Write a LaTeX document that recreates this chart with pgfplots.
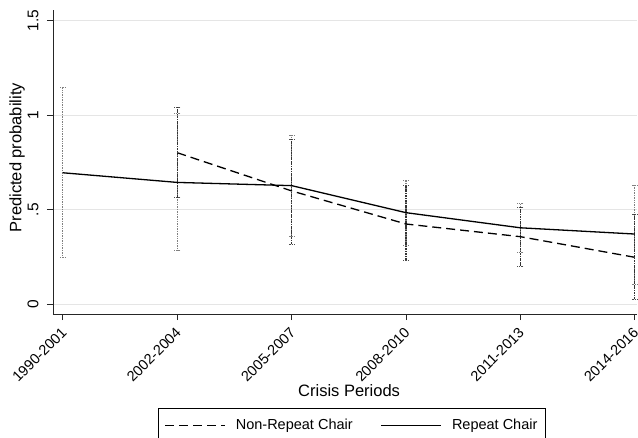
\documentclass[border=0pt]{standalone}
\usepackage{pgfplots}
\pgfplotsset{compat=1.18}
\usepackage{pgfplotstable}
\usepackage{fontspec}
\setmainfont{Liberation Sans}

\pgfplotstableread{
x y
0 0.696
1 0.645
2 0.628
3 0.485
4 0.405
5 0.372
}\repeatdata

\pgfplotstableread{
x y
1 0.802
2 0.600
3 0.425
4 0.358
5 0.249
}\nonrepeatdata

\begin{document}
\begin{tikzpicture}
\begin{axis}[
  scale only axis,
  width=584pt, height=304pt,
  xmin=-0.087, xmax=5.02,
  ymin=-0.051, ymax=1.557,
  axis x line*=bottom, axis y line*=left,
  axis line style={line width=0.9pt, black!85},
  tick align=outside,
  major tick length=6pt,
  tick style={line width=0.9pt, black!85},
  xtick={0,1,2,3,4,5},
  xticklabels={1990-2001,2002-2004,2005-2007,2008-2010,2011-2013,2014-2016},
  ytick={0,0.5,1,1.5},
  yticklabels={0,.5,1,1.5},
  /pgf/number format/assume math mode=true,
  ymajorgrids,
  grid style={line width=0.8pt, black!10},
  xticklabel style={rotate=45, anchor=east, xshift=-3pt, yshift=-8pt, font=\fontsize{14.5}{17}\selectfont},
  yticklabel style={rotate=90, anchor=south, yshift=5pt, font=\fontsize{15.5}{18}\selectfont},
  xlabel={Crisis Periods},
  ylabel={Predicted probability},
  xlabel style={at={(axis description cs:0.507,0)}, anchor=center, yshift=-77pt, font=\fontsize{16.5}{19}\selectfont},
  ylabel style={at={(axis description cs:0,0.514)}, anchor=center, yshift=36pt, font=\fontsize{16.5}{19}\selectfont},
  legend columns=2,
  legend cell align=left,
  legend image code/.code={\draw[#1] (0pt,0pt) -- (60pt,0pt);},
  legend style={at={(axis description cs:0.512,-0.309)}, anchor=north,
    draw=black, line width=0.8pt, inner xsep=6pt, inner ysep=9pt,
    font=\fontsize{14.5}{17}\selectfont,
    /tikz/every even column/.append style={column sep=26pt},
    /tikz/every odd column/.append style={column sep=8pt}},
  unbounded coords=jump,
  clip=false,
]
% confidence intervals: Repeat Chair
\addplot[forget plot, black!50, line width=1.1pt, dash pattern=on 0.9pt off 0.8pt,
  mark=-, mark size=3pt, mark options={black!50, line width=0.9pt, dash pattern=on 0.9pt off 0.8pt}]
  coordinates {
  (0,0.247) (0,1.148) (0,nan)
  (1,0.284) (1,1.010) (1,nan)
  (2,0.358) (2,0.896) (2,nan)
  (3,0.314) (3,0.658) (3,nan)
  (4,0.275) (4,0.534) (4,nan)
  (5,0.106) (5,0.631)
  };
% confidence intervals: Non-Repeat Chair
\addplot[forget plot, black!80, line width=1.1pt, dash pattern=on 2.5pt off 1pt on 0.8pt off 1pt,
  mark=-, mark size=3pt, mark options={black!70, line width=0.9pt, dash pattern=on 0.9pt off 0.8pt}]
  coordinates {
  (1,0.564) (1,1.042) (1,nan)
  (2,0.317) (2,0.874) (2,nan)
  (3,0.231) (3,0.627) (3,nan)
  (4,0.203) (4,0.513) (4,nan)
  (5,0.026) (5,0.476)
  };
% lines
\addplot[black, line width=1.3pt, dash pattern=on 9pt off 5pt, mark=none]
  table[x=x, y=y] {\nonrepeatdata};
\addlegendentry{Non-Repeat Chair}
\addplot[black, line width=1.3pt, mark=none]
  table[x=x, y=y] {\repeatdata};
\addlegendentry{Repeat Chair}
\end{axis}
\pgfresetboundingbox
\path (current axis.south west) ++(-53pt,-123pt) rectangle ++(638pt,437pt);
\end{tikzpicture}
\end{document}
